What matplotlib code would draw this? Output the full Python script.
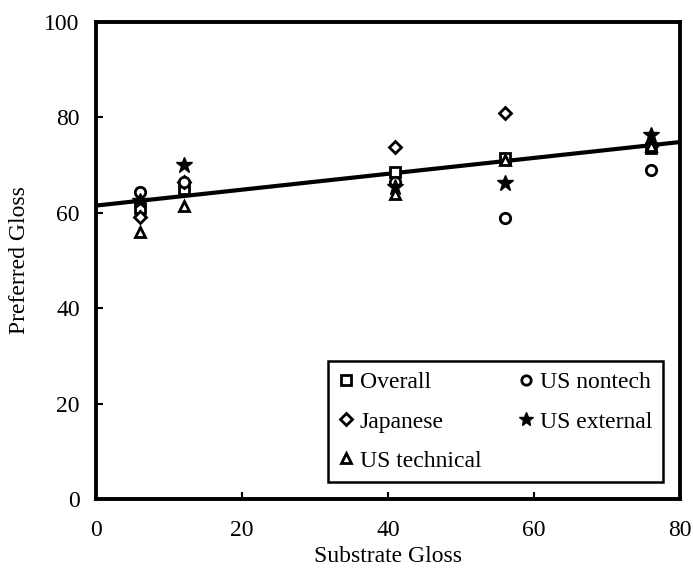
import numpy as np
import matplotlib
matplotlib.use('Agg')
import matplotlib.pyplot as plt

plt.rcParams['font.family'] = ['Liberation Serif', 'DejaVu Serif']
plt.rcParams['font.size'] = 17

# substrate gloss levels
substrate = [6, 12, 41, 56, 76]

# preferred gloss per group
overall = [60.9, 65.0, 68.5, 71.4, 73.5]
japanese = [59.0, 66.5, 73.7, 80.9, 74.0]
us_technical = [56.0, 61.5, 64.0, 71.0, 74.0]
us_nontech = [64.3, 66.4, 66.4, 58.8, 68.9]
us_external = [62.5, 70.0, 65.3, 66.2, 76.3]

# regression line end points
fit_x = [0, 80]
fit_y = [61.5, 74.8]

fig = plt.figure(figsize=(6.93, 5.73), dpi=100)
ax = fig.add_axes([0.139, 0.129, 0.842, 0.833])

ax.plot(fit_x, fit_y, color='black', lw=3, zorder=2)

mk = dict(ls='none', color='black', mfc='white', mew=2.0, ms=7.5, zorder=3)
ax.plot(substrate, overall, marker='s', label='Overall', **mk)
ax.plot(substrate, japanese, marker='D', label='Japanese', **dict(mk, ms=6.5))
ax.plot(substrate, us_technical, marker='^', label='US technical', **mk)
ax.plot(substrate, us_nontech, marker='o', label='US nontech', **mk)
ax.plot(substrate, us_external, marker='*', label='US external',
        ls='none', color='black', mfc='black', mec='black', ms=12, zorder=4)

ax.set_xlim(0, 80)
ax.set_ylim(0, 100)
ax.set_xticks(np.arange(0, 81, 20))
ax.set_yticks(np.arange(0, 101, 20))
ax.tick_params(direction='in', length=5, width=1.5, top=False, right=False)
ax.tick_params(axis='x', pad=15)
ax.tick_params(axis='y', pad=12)
for s in ax.spines.values():
    s.set_linewidth(2.8)

ax.set_xlabel('Substrate Gloss', labelpad=4)
ax.set_ylabel('Preferred Gloss', labelpad=10)

leg = ax.legend(ncol=2, loc='lower right', bbox_to_anchor=(0.972, 0.035),
                fancybox=False, framealpha=1, edgecolor='black',
                handlelength=0.6, handletextpad=0.3, columnspacing=1.6,
                labelspacing=0.75, borderpad=0.45, borderaxespad=0,
                markerscale=0.9)
leg.get_frame().set_linewidth(1.8)

fig.savefig('out.png', dpi=100)
